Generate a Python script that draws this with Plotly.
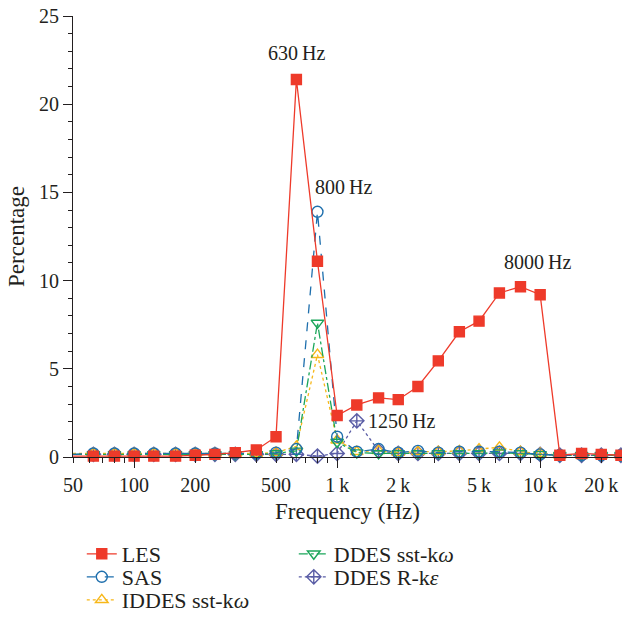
import numpy as np
import plotly.graph_objects as go

freq = [50, 63, 80, 100, 125, 160, 200, 250, 315, 400, 500, 630, 800, 1000, 1250,
        1600, 2000, 2500, 3150, 4000, 5000, 6300, 8000, 10000, 12500, 16000, 20000, 25000]

les = [0.05, 0.05, 0.05, 0.05, 0.05, 0.05, 0.1, 0.15, 0.25, 0.4, 1.15, 21.4, 11.1, 2.35, 2.95,
       3.35, 3.25, 4.0, 5.45, 7.1, 7.7, 9.3, 9.65, 9.2, 0.1, 0.2, 0.15, 0.1]
sas = [0.15, 0.2, 0.2, 0.2, 0.2, 0.2, 0.2, 0.2, 0.2, 0.2, 0.25, 0.45, 13.9, 1.15, 0.3,
       0.45, 0.25, 0.35, 0.25, 0.3, 0.3, 0.3, 0.25, 0.15, 0.1, 0.1, 0.1, 0.1]
iddes = [0.2, 0.2, 0.2, 0.2, 0.2, 0.2, 0.2, 0.2, 0.2, 0.2, 0.25, 0.6, 5.8, 0.95, 0.3,
         0.35, 0.25, 0.3, 0.3, 0.35, 0.45, 0.55, 0.3, 0.2, 0.1, 0.1, 0.1, 0.1]
ddes_sst = [0.15, 0.15, 0.15, 0.15, 0.15, 0.15, 0.15, 0.15, 0.15, 0.15, 0.2, 0.35, 7.6, 0.85, 0.25,
            0.2, 0.2, 0.2, 0.2, 0.2, 0.2, 0.25, 0.2, 0.15, 0.1, 0.1, 0.1, 0.1]
ddes_rke = [0.15, 0.15, 0.15, 0.15, 0.15, 0.15, 0.15, 0.15, 0.15, 0.15, 0.15, 0.15, 0.05, 0.2, 2.05,
            0.35, 0.2, 0.2, 0.2, 0.2, 0.2, 0.2, 0.2, 0.15, 0.1, 0.1, 0.1, 0.1]

label_vals = [50, 100, 200, 500, 1000, 2000, 5000, 10000, 20000]
label_text = ["50", "100", "200", "500", "1\u2009k", "2\u2009k", "5\u2009k", "10\u2009k", "20\u2009k"]
decade_vals = [100, 1000, 10000]
minor_vals = [60, 70, 80, 90, 300, 400, 600, 700, 800, 900, 3000, 4000, 6000, 7000, 8000, 9000]

FONT = "Liberation Serif"
TXT = "#231F20"

N_RKE = "DDES R-k<i>\u03b5</i>"
N_IDD = "IDDES sst-k<i>\u03c9</i>"
N_DSS = "DDES sst-k<i>\u03c9</i>"

# name, values, colour, dash, symbol, legend id
series = [
    (N_RKE, ddes_rke, "#5B5EA6", "dot", "diamond-cross-open", "legend2"),
    (N_IDD, iddes, "#F7B718", "dot", "triangle-up-open", "legend3"),
    (N_DSS, ddes_sst, "#1BA65A", "dashdot", "triangle-down-open", "legend"),
    ("SAS", sas, "#1E6FAD", "dash", "circle-open", "legend2"),
    ("LES", les, "#EE3A2A", "solid", "square", "legend"),
]
rank = {"LES": 1, N_DSS: 2, "SAS": 1, N_RKE: 2, N_IDD: 1}

fig = go.Figure()
for name, vals, col, dash, sym, lg in series:
    fig.add_trace(go.Scatter(
        x=freq, y=vals, name=name, mode="lines+markers",
        line=dict(color=col, width=1.3, dash=dash),
        marker=dict(symbol=sym, size=11 if sym != "square" else 10, color=col,
                    line=dict(color=col, width=1.4)),
        cliponaxis=False, legendrank=rank[name], legend=lg,
    ))

# helper trace for the long decade ticks axis
fig.add_trace(go.Scatter(x=freq, y=les, xaxis="x2", mode="markers",
                         marker=dict(opacity=0), showlegend=False, hoverinfo="skip"))

xr = [np.log10(50), np.log10(25300)]
H = 441.0
def py(px):
    return (457 - px) / H

leg_common = dict(orientation="h", x=0.016, xanchor="left", yanchor="middle",
                  entrywidth=167, entrywidthmode="pixels",
                  font=dict(size=22, family=FONT, color=TXT),
                  bgcolor="rgba(0,0,0,0)", itemwidth=30)

fig.update_layout(
    width=622, height=622,
    margin=dict(l=73, r=0, t=16, b=165),
    paper_bgcolor="white", plot_bgcolor="white",
    font=dict(family=FONT, size=20, color=TXT),
    showlegend=True,
    legend=dict(leg_common, y=py(554)),
    legend2=dict(leg_common, y=py(577)),
    legend3=dict(leg_common, y=py(600)),
    xaxis=dict(type="log", range=xr, tickmode="array", tickvals=label_vals, ticktext=label_text,
               ticks="outside", ticklen=5, tickwidth=1, tickcolor=TXT,
               showline=True, linecolor=TXT, linewidth=1.2, showgrid=False, zeroline=False,
               minor=dict(tickmode="array", tickvals=minor_vals, ticks="outside", ticklen=5,
                          tickwidth=1, tickcolor=TXT, showgrid=False),
               ticklabelstandoff=5,
               title=dict(text="Frequency (Hz)", font=dict(size=23, family=FONT, color=TXT), standoff=7),
               tickfont=dict(size=20, family=FONT, color=TXT)),
    xaxis2=dict(type="log", range=xr, overlaying="x", anchor="y", side="bottom",
                tickmode="array", tickvals=decade_vals, showticklabels=False,
                ticks="outside", ticklen=10, tickwidth=1.2, tickcolor=TXT,
                showline=False, showgrid=False, zeroline=False),
    yaxis=dict(range=[0, 25], tickmode="array", tickvals=[0, 5, 10, 15, 20, 25],
               ticks="outside", ticklen=9, tickwidth=1, tickcolor=TXT,
               showline=True, linecolor=TXT, linewidth=1.2, showgrid=False, zeroline=False,
               minor=dict(dtick=1, ticks="outside", ticklen=4, tickwidth=1, tickcolor=TXT, showgrid=False),
               title=dict(text="Percentage", font=dict(size=23, family=FONT, color=TXT), standoff=7),
               tickfont=dict(size=20, family=FONT, color=TXT)),
)

ann = [
    (630, 21.4, "630\u2009Hz", 27, 0, "center"),
    (800, 13.9, "800\u2009Hz", 25, 26, "center"),
    (8000, 9.65, "8000\u2009Hz", 25, 17, "center"),
    (1250, 2.05, "1250\u2009Hz", 0, 9, "left"),
]
for fx, fy, t, ys, xs, anc in ann:
    fig.add_annotation(x=np.log10(fx), y=fy, text=t, showarrow=False, xref="x", yref="y",
                       yshift=ys, xshift=xs, xanchor=anc,
                       font=dict(size=20, family=FONT, color=TXT))

fig.write_html("out.html")
